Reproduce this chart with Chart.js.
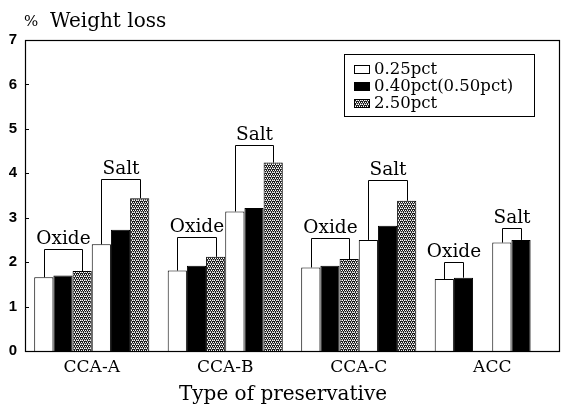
<!DOCTYPE html>
<html>
<head>
<meta charset="utf-8">
<script src="https://cdn.jsdelivr.net/npm/chart.js@4.4.1/dist/chart.umd.min.js"></script>
<style>
  html, body { margin: 0; padding: 0; background: #fff; }
  canvas { display: block; }
</style>
</head>
<body>
<canvas id="c" width="564" height="409"></canvas>
<script>
// ---- data ----
const categories = ["CCA-A", "CCA-B", "CCA-C", "ACC"];
const seriesNames = ["0.25pct", "0.40pct(0.50pct)", "2.50pct"];
const oxide025 = [1.66, 1.81, 1.88, 1.62];
const oxide040 = [1.70, 1.92, 1.92, 1.65];
const oxide250 = [1.80, 2.12, 2.07, null];
const salt025  = [2.40, 3.14, 2.50, 2.44];
const salt040  = [2.73, 3.22, 2.82, 2.50];
const salt250  = [3.44, 4.24, 3.38, null];
const oxideBracket = [2.30, 2.56, 2.54, 2.01];
const saltBracket  = [3.87, 4.64, 3.85, 2.77];
const yTicks = [0, 1, 2, 3, 4, 5, 6, 7];

// ---- fill pattern for 2.50pct ----
function makePattern() {
  const p = document.createElement('canvas');
  p.width = 4; p.height = 4;
  const g = p.getContext('2d');
  g.fillStyle = '#1a1a1a';
  g.fillRect(0, 0, 4, 4);
  g.fillStyle = '#ffffff';
  [[0,0],[2,0],[1,2],[3,2]].forEach(([x,y]) => g.fillRect(x, y, 1, 1));
  g.fillStyle = '#a0a0a0';
  [[1,0],[3,1],[0,3],[2,3]].forEach(([x,y]) => g.fillRect(x, y, 1, 1));
  return document.getElementById('c').getContext('2d').createPattern(p, 'repeat');
}
const dotPat = makePattern();
const fills = ['#ffffff', '#000000', dotPat];

const CAT_PCT = 0.862;
function ds(label, data, k) {
  return {
    label, data,
    backgroundColor: fills[k],
    borderColor: '#000',
    borderWidth: 1,
    barPercentage: 1.0,
    categoryPercentage: CAT_PCT,
  };
}

const serif = "'DejaVu Serif', serif";

const overlay = {
  id: 'overlay',
  afterDraw(chart) {
    const {ctx, chartArea: a, scales} = chart;
    const y = scales.y;
    ctx.save();
    // frame
    ctx.strokeStyle = '#000';
    ctx.lineWidth = 1.2;
    ctx.strokeRect(a.left + 0.5, a.top + 0.5, a.right - a.left, a.bottom - a.top);
    // inward y ticks
    ctx.lineWidth = 1;
    yTicks.forEach(v => {
      const py = Math.round(y.getPixelForValue(v)) + 0.5;
      ctx.beginPath(); ctx.moveTo(a.left, py); ctx.lineTo(a.left + 4, py); ctx.stroke();
    });
    // brackets
    const groups = [
      {first: 0, last: [2, 2, 2, 1], top: oxideBracket, text: 'Oxide'},
      {first: 3, last: [5, 5, 5, 4], top: saltBracket, text: 'Salt'},
    ];
    ctx.font = "18.5px " + serif;
    ctx.fillStyle = '#000';
    ctx.textAlign = 'center';
    ctx.textBaseline = 'alphabetic';
    groups.forEach(g => {
      categories.forEach((c, j) => {
        const m0 = chart.getDatasetMeta(g.first).data[j];
        const m1 = chart.getDatasetMeta(g.last[j]).data[j];
        const d0 = chart.data.datasets[g.first].data[j];
        const d1 = chart.data.datasets[g.last[j]].data[j];
        const x0 = Math.round(m0.x) + 0.5, x1 = Math.round(m1.x) + 0.5;
        const yt = Math.round(y.getPixelForValue(g.top[j])) + 0.5;
        ctx.beginPath();
        ctx.moveTo(x0, y.getPixelForValue(d0));
        ctx.lineTo(x0, yt);
        ctx.lineTo(x1, yt);
        ctx.lineTo(x1, y.getPixelForValue(d1));
        ctx.stroke();
        ctx.fillText(g.text, (x0 + x1) / 2, yt - 6);
      });
    });
    // y title
    ctx.textAlign = 'left';
    ctx.font = "15px " + serif;
    ctx.fillText('%', 24, 26);
    ctx.font = "20px " + serif;
    ctx.fillText('Weight loss', 50, 27);
    // x title
    ctx.textAlign = 'center';
    ctx.font = "20px " + serif;
    ctx.fillText('Type of preservative', 283, 400);
    // legend
    const lx = 344, ly = 54, lw = 190, lh = 62;
    ctx.lineWidth = 1;
    ctx.strokeRect(lx + 0.5, ly + 0.5, lw, lh);
    ctx.font = "16.5px " + serif;
    ctx.textAlign = 'left';
    ctx.textBaseline = 'middle';
    seriesNames.forEach((n, i) => {
      const cy = ly + 15 + i * 17;
      ctx.fillStyle = fills[i];
      ctx.fillRect(354, cy - 4, 16, 9);
      ctx.strokeStyle = '#000';
      ctx.strokeRect(354.5, cy - 3.5, 15, 8);
      ctx.fillStyle = '#000';
      ctx.fillText(n, 374, cy + 1);
    });
    ctx.restore();
  }
};

new Chart(document.getElementById('c'), {
  type: 'bar',
  data: {
    labels: categories,
    datasets: [
      ds('Oxide ' + seriesNames[0], oxide025, 0),
      ds('Oxide ' + seriesNames[1], oxide040, 1),
      ds('Oxide ' + seriesNames[2], oxide250, 2),
      ds('Salt ' + seriesNames[0], salt025, 0),
      ds('Salt ' + seriesNames[1], salt040, 1),
      ds('Salt ' + seriesNames[2], salt250, 2),
    ]
  },
  options: {
    responsive: false,
    devicePixelRatio: 1,
    animation: false,
    layout: { padding: { top: 40, right: 5, left: 0, bottom: 0 } },
    plugins: { legend: { display: false }, tooltip: { enabled: false }, title: { display: false } },
    scales: {
      y: {
        min: 0, max: 7,
        afterBuildTicks: s => { s.ticks = yTicks.map(v => ({value: v})); },
        ticks: { stepSize: 1, color: '#000', padding: 8, font: { family: "Arial, 'Liberation Sans', sans-serif", size: 15, weight: 'bold' } },
        grid: { display: false, drawTicks: false },
        border: { display: false },
        afterFit: s => { s.width = 25; }
      },
      x: {
        ticks: { color: '#000', padding: 6, font: { family: serif, size: 17 } },
        grid: { display: false, drawTicks: false },
        border: { display: false },
        afterFit: s => { s.height = 58; }
      }
    }
  },
  plugins: [overlay]
});
</script>
</body>
</html>
